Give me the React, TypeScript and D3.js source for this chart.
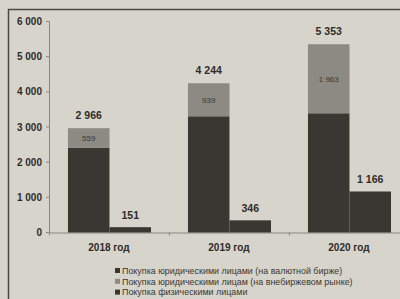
import React from 'react';
import * as d3 from 'd3';

const years = ['2018 год', '2019 год', '2020 год'];
const exchangeLegal = [2407, 3305, 3390];
const otcLegal = [559, 939, 1963];
const individuals = [151, 346, 1166];
const yTicks = [0, 1000, 2000, 3000, 4000, 5000, 6000];
const legendLabels = [
  'Покупка юридическими лицами (на валютной бирже)',
  'Покупка юридическими лицам (на внебиржевом рынке)',
  'Покупка физическими лицами',
];

const W = 400;
const H = 299;
const PAPER = '#d7d4cc';
const DARK = '#3a3631';
const LIGHT = '#8c8a83';
const TEXT = '#2e2c29';
const FONT = "'Liberation Sans Narrow', 'Arial Narrow', 'Liberation Sans', Arial, sans-serif";

const locale = d3.formatLocale({ decimal: ',', thousands: ' ', grouping: [3], currency: ['', ''] });
const fmt = locale.format(',d');

export default function App() {
  const x0 = d3.scaleBand<string>().domain(years).range([49, 409]).paddingInner(0).paddingOuter(0);
  const x1 = d3
    .scaleBand<string>()
    .domain(['legal', 'ind'])
    .range([x0.bandwidth() * 0.158, x0.bandwidth() * 0.85])
    .padding(0);
  const y = d3.scaleLinear().domain([0, 6000]).range([232.5, 21.5]);
  const bw = x1.bandwidth();

  return (
    <div style={{ position: 'fixed', left: 0, top: 0, width: W, height: H }}>
      <svg width={W} height={H} style={{ display: 'block', background: PAPER }} fontFamily={FONT}>
        <rect x={0} y={0} width={W} height={H} fill={PAPER} />
        {/* frame */}
        <line x1={8.5} y1={9} x2={8.5} y2={H} stroke="#4a4741" strokeWidth={1.5} />
        <line x1={8} y1={9.5} x2={W} y2={9.5} stroke="#4a4741" strokeWidth={1.5} />
        {/* y axis */}
        <line x1={49.5} y1={y(6000)} x2={49.5} y2={y(0)} stroke="#8a877f" strokeWidth={1} />
        {yTicks.map((t) => (
          <g key={t}>
            <line x1={46} x2={49.5} y1={y(t)} y2={y(t)} stroke="#8a877f" />
            <text
              x={42}
              y={y(t)}
              dy="0.35em"
              textAnchor="end"
              fontSize={10}
              fontWeight="bold"
              fill={TEXT}
            >
              {fmt(t)}
            </text>
          </g>
        ))}
        {/* x axis */}
        <line x1={49.5} x2={W} y1={y(0) + 0.5} y2={y(0) + 0.5} stroke="#8a877f" />
        {years.map((yr) => (
          <line
            key={'t' + yr}
            x1={(x0(yr) as number) + 0.5}
            x2={(x0(yr) as number) + 0.5}
            y1={y(0)}
            y2={y(0) + 3}
            stroke="#8a877f"
          />
        ))}
        {years.map((yr, i) => {
          const gx = x0(yr) as number;
          const lx = gx + (x1('legal') as number);
          const ix = gx + (x1('ind') as number);
          const total = exchangeLegal[i] + otcLegal[i];
          return (
            <g key={yr}>
              <rect x={lx} y={y(exchangeLegal[i])} width={bw} height={y(0) - y(exchangeLegal[i])} fill={DARK} />
              <rect
                x={lx}
                y={y(total)}
                width={bw}
                height={y(exchangeLegal[i]) - y(total)}
                fill={LIGHT}
              />
              <rect x={ix} y={y(individuals[i])} width={bw} height={y(0) - y(individuals[i])} fill={DARK} />
              <text
                x={lx + bw / 2}
                y={(y(total) + y(exchangeLegal[i])) / 2}
                dy="0.35em"
                textAnchor="middle"
                fontSize={8}
                fill="#3a3833"
              >
                {fmt(otcLegal[i])}
              </text>
              <text
                x={lx + bw / 2}
                y={y(total) - 9}
                textAnchor="middle"
                fontSize={10.5}
                fontWeight="bold"
                fill={TEXT}
              >
                {fmt(total)}
              </text>
              <text
                x={ix + bw / 2}
                y={y(individuals[i]) - 8}
                textAnchor="middle"
                fontSize={10.5}
                fontWeight="bold"
                fill={TEXT}
              >
                {fmt(individuals[i])}
              </text>
              <text
                x={gx + x0.bandwidth() / 2}
                y={247}
                dy="0.35em"
                textAnchor="middle"
                fontSize={10}
                fontWeight="bold"
                fill={TEXT}
              >
                {yr}
              </text>
            </g>
          );
        })}
        {/* legend */}
        {legendLabels.map((lab, i) => (
          <g key={lab} transform={`translate(115, ${270.5 + i * 10.8})`}>
            <rect x={0} y={-2.5} width={5} height={5} fill={i === 1 ? LIGHT : DARK} />
            <text x={7} y={0} dy="0.35em" fontSize={9.5} fill="#3a3833" transform="scale(0.94,1)" style={{ transformOrigin: '7px 0px' }}>
              {lab}
            </text>
          </g>
        ))}
      </svg>
    </div>
  );
}
